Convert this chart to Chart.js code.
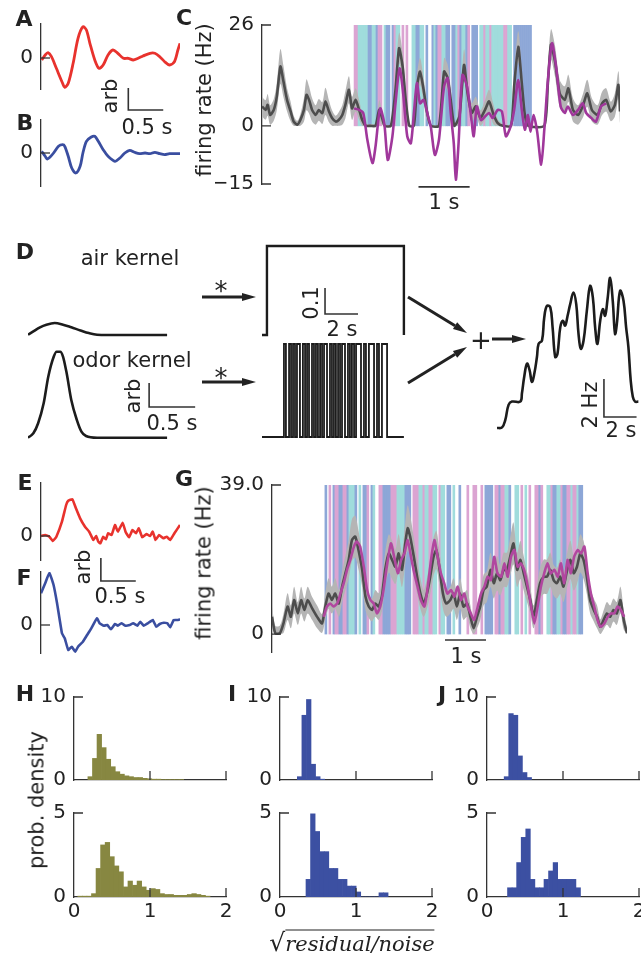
<!DOCTYPE html>
<html>
<head>
<meta charset="utf-8">
<script src="https://cdn.jsdelivr.net/npm/chart.js@4.4.1/dist/chart.umd.min.js"></script>
<style>
  body { margin: 0; background: #fff; }
  #fig { position: relative; width: 641px; height: 957px; overflow: hidden; font-family: 'DejaVu Sans', sans-serif; color: #222; }
  #fig canvas { position: absolute; }
  .t { position: absolute; white-space: nowrap; line-height: 1; font-size: 21px; transform: translate(-50%, -50%); }
  .r { transform: translate(-50%, -50%) rotate(-90deg); }
  .L { font-weight: bold; font-size: 22px; }
  .s { font-size: 26px; }
</style>
</head>
<body>
<div id="fig"></div>
<script>
// ---------- data ----------

// A, B: kernels of panel A/B (time s, arbitrary units)
const aTime = [0.01,0.06,0.1,0.15,0.22,0.3,0.34,0.39,0.46,0.53,0.6,0.65,0.7,0.77,0.83,0.89,0.96,1.03,1.1,1.18,1.25,1.32,1.39,1.46,1.56,1.63,1.7,1.77,1.84,1.91,1.96,1.99];
const aVal = [-0.2,0.3,0.53,0.13,-1.03,-2.37,-2.93,-2.53,-0.53,1.97,3.13,2.8,1.47,-0.2,-1.03,-0.7,0.3,0.8,0.47,-0.03,-0.03,-0.2,-0.03,0.2,0.47,0.47,0.13,-0.37,-0.7,-0.37,0.8,1.47];
const bTime = [0.01,0.06,0.09,0.13,0.18,0.25,0.31,0.34,0.39,0.44,0.5,0.56,0.6,0.65,0.72,0.77,0.82,0.89,0.96,1.06,1.13,1.2,1.27,1.34,1.41,1.49,1.56,1.63,1.7,1.77,1.84,1.91,1.99];
const bVal = [0.17,-0.33,-0.6,-0.4,0,0.67,0.83,0.67,-0.33,-1.5,-2.0,-1.33,0,1.17,1.6,1.67,1.17,0.33,-0.33,-0.83,-0.5,0,0.27,0.07,-0.07,0,-0.07,0.07,-0.07,-0.17,-0.07,-0.07,-0.07];

// E, F: kernels of panel E/F
const eTime = [0,0.06,0.12,0.17,0.22,0.3,0.36,0.39,0.45,0.5,0.56,0.63,0.69,0.75,0.79,0.82,0.85,0.89,0.93,0.96,1.01,1.06,1.1,1.17,1.21,1.26,1.31,1.36,1.4,1.45,1.51,1.56,1.6,1.64,1.69,1.75,1.8,1.85,1.91,1.99];
const eVal = [0,0.1,-0.07,-0.5,-0.07,1.43,3.1,3.53,3.67,2.77,1.77,0.93,0.43,-0.4,0,-0.57,-0.73,-0.07,-0.33,0.27,0.1,1.1,0.43,1.33,0.43,-0.13,0.6,0.27,0.77,-0.13,0.2,0,0.43,-0.4,0.1,-0.23,-0.07,-0.4,0.27,1.1];
const fTime = [0,0.06,0.12,0.18,0.23,0.3,0.34,0.39,0.44,0.49,0.53,0.6,0.66,0.72,0.8,0.84,0.9,0.95,1.0,1.06,1.1,1.15,1.21,1.27,1.32,1.38,1.42,1.47,1.53,1.6,1.65,1.7,1.76,1.81,1.85,1.9,1.95,1.99];
const fVal = [3.17,4.17,5.23,4.0,2.17,-0.83,-1.33,-2.5,-2.17,-2.67,-2.17,-1.67,-1.0,-0.33,0.67,0.17,-0.07,0,-0.43,0.1,-0.07,0.17,-0.07,0,0.17,-0.07,0.33,-0.07,0.17,0.5,-0.17,0.1,0.23,0.17,-0.23,0.5,0.5,0.57];

// C: firing rate (Hz), mean + error, and prediction
const cTime = [0,0.07,0.11,0.16,0.23,0.29,0.36,0.42,0.49,0.56, 0.62,0.69,0.75,0.82,0.87,0.92,0.98,1.05,1.11,1.18, 1.24,1.31,1.37,1.44,1.5,1.57,1.63,1.7,1.76,1.83, 1.9,1.96,2.03,2.12,2.22,2.29,2.34,2.4,2.52,2.61, 2.68,2.75,2.81,2.88,2.97,3.03,3.09,3.16,3.22,3.3, 3.46,3.56,3.63,3.69,3.76,3.86,3.95,4.02,4.1,4.18, 4.27,4.36,4.44,4.53,4.61,4.71,4.87,4.93,5.01,5.08, 5.14,5.21,5.52,5.59,5.65,5.73,5.82,5.92,5.99,6.08, 6.18,6.27,6.36,6.45,6.56,6.65,6.73,6.82,6.9,6.97, 7.0];
const cMean = [5.0,4.1,5.4,2.8,4.1,7.6,15.3,11.4,6.7,3.7, 1.1,0.3,1.5,4.1,8.0,6.7,4.1,2.8,4.1,3.3, 6.3,3.7,2.0,1.1,1.5,2.8,5.4,9.3,4.5,6.7, 4.1,1.5,0,0,0,4.1,2.4,0,0,9.3, 20,15.3,6.7,0,0,10.1,14.0,9.3,4.1,0, 0,14.0,12.3,6.7,0,2.4,15.7,8.4,3.3,5.0, 2.0,4.1,6.3,2.8,0.7,0,0,10.1,20.4,11.0, 2.8,0,0,11.0,20.9,16.6,8.4,6.7,9.7,4.1, 2.8,5.0,8.4,4.1,2.8,5.8,6.7,3.7,5.4,10.6, 3.7];
const cErr = [2.5,2.5,2.8,2.5,2.8,3.5,4.5,4,3,2.5, 1.5,1,1.5,3,4,3.5,3,2.5,2.8,2.8, 3.5,2.8,2,1.5,2,2.5,3.5,3.5,3,3, 2.5,1.5,0.5,0.5,0.5,2.5,2,0.5,0.5,3, 4,3.5,3,0.5,0.5,3,3.5,3,2.5,0.5, 0.5,3.5,3.5,3,0.5,2,4,3,2.5,2.5, 2,2.5,3,2.5,1,0.5,0.5,3,4,3.5, 2,0.5,0.5,3.5,4,4,3.5,3.5,3.5,3, 2.5,3,3.5,3,2.5,3,3,2.5,3,3.5, 3];
const cPredTime = [1.8,1.9,1.98,2.06,2.16,2.22,2.31,2.39,2.46,2.55, 2.61,2.69,2.76,2.84,2.91,2.97,3.03,3.09,3.16,3.24, 3.3,3.38,3.46,3.56,3.63,3.69,3.75,3.79,3.84,3.92, 4.01,4.08,4.14,4.2,4.28,4.36,4.44,4.51,4.61,4.69, 4.77,4.86,4.93,5.01,5.08,5.14,5.2,5.25,5.31,5.38, 5.46,5.52,5.59,5.67,5.75,5.84,5.92,5.98,6.08,6.18, 6.27,6.34,6.44,6.53,6.63,6.73];
const cPred = [4.5,4.1,3.3,-3.6,-9.6,-5.3,4.5,0.7,-8.8,-2.7, 5.8,14.8,8.4,-2.7,-4.5,3.3,11.0,5.8,6.7,2.8, -0.2,-7.5,-3.6,10.1,12.3,3.3,-4.5,-13.9,-5.3,13.1, 10.1,3.3,-2.7,5.0,1.5,2.4,3.3,2.0,4.1,3.7, -2.7,-0.2,4.1,11.8,4.1,-1.0,2.8,-1.5,2.8,-1.5, -10.0,-1.0,11.8,21.3,15.3,5.0,3.3,5.0,2.8,4.1, 5.8,3.3,2.0,1.1,5.0,5.8];
// stimulus stripes: b = air, c = odor, p = odor 2, . = none
const cStim = 'ppcccccbbccbpp.cbb.bpcc.p.p..ccbbcc.b..bcbppccbb.bbcpbccbp.bbb.ccpccpccccccppcc.bbbbbbbbb'.split('');
const cStimSpan = [1.80, 5.27];

// G: firing rate (Hz), mean + error, and prediction
const gTime = [0,0.08,0.19,0.28,0.38,0.46,0.54,0.63,0.71,0.79, 0.87,0.98,1.1,1.22,1.3,1.38,1.46,1.54,1.63,1.71, 1.79,1.87,1.95,2.03,2.11,2.2,2.28,2.36,2.44,2.52, 2.6,2.68,2.76,2.85,2.93,3.01,3.09,3.17,3.25,3.31, 3.37,3.46,3.54,3.62,3.7,3.78,3.86,3.94,4.01,4.09, 4.17,4.25,4.35,4.43,4.51,4.59,4.67,4.76,4.84,4.92, 5.0,5.08,5.16,5.24,5.33,5.41,5.49,5.57,5.65,5.73, 5.81,5.89,5.98,6.06,6.14,6.22,6.3,6.38,6.46,6.54, 6.63,6.71,6.79,6.87,6.95,7.03,7.11,7.2,7.28,7.36, 7.44,7.52,7.6,7.68,7.76,7.85,7.93,8.01,8.09,8.17, 8.25,8.33,8.41,8.5,8.58,8.66];
const gMean = [4.5,0.2,0.2,2.8,7.2,4.5,8.9,5.4,8.9,6.3, 8.9,6.7,4.5,2.8,7.2,10.6,8.9,10.6,8.0,12.4, 15.9,19.4,24.6,25.5,22,16.8,9.8,7.2,6.3,8.0, 7.2,9.8,16.8,21.1,19.4,17.6,21.1,16.8,23.7,27.7, 25.5,20.2,15,10.6,8.0,10.6,15,20.2,22,16.8, 10.6,8.0,8.9,10.6,7.2,10.6,7.2,8.0,4.5,1.5, 4.5,7.2,11.5,12.4,16.8,13.3,15.9,14.1,16.8,16.8, 20.2,23.7,16.8,19.4,15.9,12.4,8.9,4.5,8.9,13.3, 15,15,16.8,14.1,13.3,15,12.4,16.8,19.4,15.9, 17.6,21.1,19.4,15,8.9,6.3,4.5,1.9,3.7,5.4, 4.5,6.3,5.4,8.9,3.7,0.2];
const gErr = [3,2,2,2.5,3.5,3,3.5,3,3.5,3, 3.5,3,3,2.5,3.5,4,3.5,4,3.5,4, 4.5,5,5.5,5.5,5,4.5,3.5,3,3,3.5, 3.5,4,4.5,5,5,4.5,5,4.5,5.5,6, 5.5,5,4.5,4,3.5,4,4.5,5,5,4.5, 4,3.5,3.5,4,3.5,4,3.5,3.5,3,2, 3,3.5,4,4,4.5,4,4.5,4,4.5,4.5, 5,5.5,4.5,5,4.5,4,3.5,3,3.5,4, 4.5,4.5,4.5,4,4,4.5,4,4.5,5,4.5, 4.5,5,5,4.5,3.5,3,3,2,2.5,3, 3,3,3,3.5,2.5,1.5];
const gPredTime = [1.26,1.34,1.42,1.5,1.59,1.67,1.75,1.83,1.91,2.0, 2.07,2.15,2.24,2.32,2.4,2.48,2.56,2.64,2.72,2.8, 2.9,2.98,3.07,3.15,3.23,3.31,3.39,3.47,3.55,3.63, 3.72,3.8,3.88,3.96,4.04,4.12,4.2,4.28,4.37,4.45, 4.53,4.61,4.69,4.77,4.85,4.93,5.02,5.1,5.18,5.26, 5.34,5.42,5.5,5.59,5.67,5.75,5.83,5.91,5.99,6.07, 6.15,6.24,6.32,6.4,6.48,6.56,6.64,6.72,6.8,6.89, 6.97,7.05,7.13,7.21,7.29,7.37,7.46,7.54,7.62,7.7, 7.78,7.86,7.94,8.02,8.11,8.19,8.27,8.35,8.43,8.51, 8.59];
const gPred = [4.5,7.2,8.0,7.2,8.0,10.6,13.3,16.8,19.4,22.9, 24.2,22.9,17.6,11.5,8.9,8.0,5.4,7.2,11.5,17.6, 23.7,20.2,15.9,19.4,21.1,24.6,20.2,15.9,12.4,8.9, 7.2,12.4,19.4,24.6,20.2,15.9,13.3,10.6,11.5,9.8, 12.4,8.9,10.6,7.2,5.4,3.7,7.2,10.6,12.4,15, 14.1,20.2,15.9,15,18.5,15,20.2,22,17.6,18.5, 16.8,12.4,7.2,2.8,7.2,12.4,15.9,18.5,15.9,16.8, 15,18.5,13.3,19.4,15.9,20.2,22,21.1,22.9,15.9, 10.6,7.2,3.7,1.9,2.8,4.5,5.4,5.4,7.2,6.3, 4.5];
const gStim = 'b.p.bppbbppbcccb.c.bbp.bc..ppbbbbpppccccbbb.pppccpccppcc.pcc.bb.c..b...p..pp..p.bbbb.ppbppccb..cc.p.c.p..ppbp..ccpbbccpbbppcppcbb.'.split('');
const gStimSpan = [1.29, 7.63];

// D: model schematic
const airKT = [0,0.058,0.13,0.2,0.29,0.38,0.47,0.57,0.66,0.75,0.86,1.51];
const airKV = [0.01,0.15,0.32,0.43,0.5,0.43,0.32,0.19,0.08,0.01,0,0];
const odorKT = [0,0.058,0.11,0.17,0.22,0.28,0.31,0.35,0.38,0.42,0.47,0.53,0.58,0.63,0.75,1.51];
const odorKV = [0,0.18,0.6,1.43,2.54,3.38,3.58,3.58,3.38,2.68,1.57,0.74,0.25,0.07,0,0];
const airOn = [[0.3, 8.6]];
const airLevel = 0.342;
const odorOn = [[1.33,1.45],[1.64,1.76],[1.88,2.0],[2.12,2.3],[2.48,2.61],[2.73,2.85],[3.03,3.15],[3.27,3.39],[3.52,3.64],[3.76,3.94],[4.12,4.24],[4.36,4.48],[4.61,4.73],[4.85,5.03],[5.21,5.33],[5.45,5.58],[5.7,6.0],[6.18,6.3],[6.48,6.79],[6.97,7.09],[7.27,7.58]];
const stimEnd = 8.6;
const outT = [0,0.31,0.51,0.71,0.92,1.43,1.53,1.67,1.84,2.0,2.14,2.29,2.45,2.55,2.76,2.9,3.06,3.27,3.41,3.57,3.71,3.88,4.04,4.18,4.33,4.49,4.69,4.86,5.0,5.14,5.31,5.51,5.71,5.88,6.02,6.16,6.33,6.49,6.63,6.78,6.94,7.1,7.24,7.35,7.55,7.76,7.92,8.06,8.2,8.33,8.47,8.67];
const outV = [0,0.03,0.43,1.22,1.39,1.39,1.83,2.7,3.39,3.04,2.43,2.87,3.74,4.43,4.61,5.83,6.43,6.35,5.3,3.74,3.91,5.3,5.65,5.39,5.91,6.52,7.13,6.52,4.96,4.17,4.61,6.17,7.48,6.87,5.3,4.43,5.65,6.26,5.91,6.78,7.91,6.7,4.96,5.48,7.22,6.7,5.3,4.26,2.52,1.65,1.39,1.39];

// H, I, J: histograms of sqrt(residual/noise), prob. density per bin
const histBin = 0.06;
const hTopStart = 0.183;
const hTop = [0.4,2.6,5.5,3.9,2.5,1.6,1.0,0.7,0.5,0.4,0.3,0.3,0.2,0.15,0.1,0.1,0.05,0.05,0.05,0.05,0.05];
const hBotStart = 0.05;
const hBot = [0.05,0.05,0.05,0.2,1.7,3.1,3.25,2.4,1.85,1.5,0.6,0.95,0.7,0.95,0.6,0.4,0.5,0.45,0.2,0.15,0.15,0.1,0.1,0.1,0.15,0.2,0.15,0.1,0.05];
const iTopStart = 0.228;
const iTop = [0.4,7.8,9.7,1.9,0.4,0.1];
const iBotStart = 0.342;
const iBot = [1.05,4.95,3.9,2.7,2.7,1.7,1.7,1.05,1.05,0.65,0.65,0.3,0,0,0,0,0.25,0.25];
const jTopStart = 0.226;
const jTop = [0.4,8.0,7.8,2.9,0.9,0.3];
const jBotStart = 0.27;
const jBot = [0.55,0.55,2.05,3.55,4.05,1.05,0.55,0.55,1.05,1.55,2.05,1.05,1.05,1.05,1.05,0.55];

// ---------- style ----------
const INK = '#222';
const AXIS = '#333';
const RED = '#e8322d';
const BLUE = '#3a4ea0';
const BLACK = '#1c1c1c';
const MEAN = '#4d4d4d';
const BAND = '#b5b5b5';
const OLIVE = '#878741';
const HBLUE = '#3c50a2';
const stimColor = { b: '#8da7d7', c: '#a0dcdc', p: '#dba4d2' };

Chart.defaults.font.family = "'DejaVu Sans', sans-serif";
Chart.defaults.font.size = 20;
Chart.defaults.color = INK;

const fig = document.getElementById('fig');

// inward tick marks
const inTicks = {
    id: 'inTicks',
    afterDraw(chart, args, o) {
        if (!o.y && !o.x) return;
        const { ctx, chartArea: a, scales } = chart;
        ctx.save();
        ctx.strokeStyle = AXIS;
        ctx.lineWidth = 1.3;
        ctx.beginPath();
        (o.y || []).forEach(v => {
            const p = scales.y.getPixelForValue(v);
            ctx.moveTo(a.left, p); ctx.lineTo(a.left + 9, p);
        });
        (o.x || []).forEach(v => {
            const p = scales.x.getPixelForValue(v);
            ctx.moveTo(p, a.bottom); ctx.lineTo(p, a.bottom - 9);
        });
        ctx.stroke();
        ctx.restore();
    }
};

// L-shaped / plain scale bars, in data units of the chart
const scaleBar = {
    id: 'scaleBar',
    afterDraw(chart, args, o) {
        if (!o.at) return;
        const { ctx, scales: { x, y } } = chart;
        const [t, v, dt, dv] = o.at;
        const x0 = x.getPixelForValue(t), y0 = y.getPixelForValue(v);
        ctx.save();
        ctx.strokeStyle = AXIS;
        ctx.lineWidth = 1.6;
        ctx.beginPath();
        if (dv) { ctx.moveTo(x0, y.getPixelForValue(v + dv)); ctx.lineTo(x0, y0); }
        else ctx.moveTo(x0, y0);
        ctx.lineTo(x.getPixelForValue(t + dt), y0);
        ctx.stroke();
        ctx.restore();
    }
};
Chart.register(inTicks, scaleBar);

function pts(xs, ys) {
    return xs.map((x, i) => ({ x, y: ys[i] }));
}

function line(xs, ys, color, width, extra) {
    return Object.assign({
        type: 'line', data: pts(xs, ys), borderColor: color, borderWidth: width,
        pointRadius: 0, tension: 0.3, fill: false, order: 0
    }, extra || {});
}

function band(xs, mean, err) {
    return [
        { type: 'line', order: 2, data: xs.map((x, i) => ({ x, y: mean[i] + err[i] })),
          borderColor: 'rgba(0,0,0,0)', borderWidth: 0, pointRadius: 0, tension: 0.3, fill: '+1', backgroundColor: BAND },
        { type: 'line', order: 3, data: xs.map((x, i) => ({ x, y: Math.max(0, mean[i] - err[i]) })),
          borderColor: 'rgba(0,0,0,0)', borderWidth: 0, pointRadius: 0, tension: 0.3, fill: false }
    ];
}

function stim(seq, span, top) {
    const w = (span[1] - span[0]) / seq.length;
    return {
        type: 'bar', order: 4,
        data: seq.map((k, i) => ({ x: span[0] + (i + 0.5) * w, y: k === '.' ? null : top })),
        backgroundColor: seq.map(k => stimColor[k] || 'rgba(0,0,0,0)'),
        barPercentage: 1, categoryPercentage: 1, borderWidth: 0
    };
}

function pulses(on, level, tEnd) {
    const p = [{ x: 0, y: 0 }];
    on.forEach(([a, b]) => p.push({ x: a, y: 0 }, { x: a, y: level }, { x: b, y: level }, { x: b, y: 0 }));
    p.push({ x: tEnd, y: 0 });
    return p;
}

function hist(start, counts, color) {
    return {
        type: 'bar',
        data: counts.map((c, i) => ({ x: start + (i + 0.5) * histBin, y: c })),
        backgroundColor: color, barPercentage: 1, categoryPercentage: 1, borderWidth: 0
    };
}

// box = [left, top, width, height], area = [left, top, right, bottom] (page px)
function panel(box, area, o) {
    const cv = document.createElement('canvas');
    cv.width = box[2];
    cv.height = box[3];
    cv.style.left = box[0] + 'px';
    cv.style.top = box[1] + 'px';
    fig.appendChild(cv);
    const yW = o.yTicks ? area[0] - box[0] : 0;
    const xH = o.xLabels ? 26 : 0;
    const noPad = s => { s.paddingLeft = 0; s.paddingRight = 0; s.paddingTop = 0; s.paddingBottom = 0; };
    return new Chart(cv, {
        type: 'bar',
        data: { datasets: o.datasets },
        options: {
            responsive: false, animation: false, events: [], devicePixelRatio: 1,
            layout: {
                autoPadding: false,
                padding: {
                    left: area[0] - box[0] - yW, top: area[1] - box[1],
                    right: box[0] + box[2] - area[2], bottom: box[1] + box[3] - area[3] - xH
                }
            },
            scales: {
                x: {
                    type: 'linear', min: o.x[0], max: o.x[1], offset: false,
                    display: !!o.xAxis,
                    afterBuildTicks: s => { if (o.xTicks) s.ticks = o.xTicks.map(v => ({ value: v })); },
                    afterFit: s => { s.height = xH; noPad(s); },
                    grid: { display: false, drawTicks: false, offset: false },
                    border: { display: !!o.xAxis, color: AXIS, width: 1.3 },
                    ticks: { display: !!o.xLabels, padding: 3, maxRotation: 0, autoSkip: false }
                },
                y: {
                    type: 'linear', min: o.y[0], max: o.y[1],
                    display: !!o.yTicks,
                    afterBuildTicks: s => { if (o.yTicks) s.ticks = o.yTicks.map(v => ({ value: v })); },
                    afterFit: s => { s.width = yW; noPad(s); },
                    grid: { display: false, drawTicks: false },
                    border: { display: true, color: AXIS, width: 1.3 },
                    ticks: { padding: 8, callback: o.yFmt || (v => v) }
                }
            },
            plugins: {
                legend: { display: false },
                tooltip: { enabled: false },
                inTicks: o.inTicks || {},
                scaleBar: o.bar ? { at: o.bar } : {}
            }
        }
    });
}

const minus = v => v < 0 ? '\u2212' + Math.abs(v) : String(v);

// A, B
panel([0, 0, 190, 118], [41, 24, 180, 89], {
    x: [0, 1.99], y: [-3.1, 3.4], yTicks: [0], inTicks: { y: [0] }, bar: [1.25, -5.2, 0.5, 2.2],
    datasets: [line(aTime, aVal, RED, 2.8)]
});
panel([0, 112, 190, 83], [41, 120, 180, 186], {
    x: [0, 1.99], y: [-3.3, 3.3], yTicks: [0], inTicks: { y: [0] },
    datasets: [line(bTime, bVal, BLUE, 2.8)]
});

// C
panel([215, 0, 426, 195], [262, 25, 620, 184], {
    x: [0, 7.0], y: [-15, 26], yTicks: [26, 0, -15], yFmt: minus, inTicks: { y: [26, 0, -15] },
    bar: [3.06, -15.75, 1, 0],
    datasets: [
        stim(cStim, cStimSpan, 26),
        ...band(cTime, cMean, cErr),
        line(cTime, cMean, MEAN, 2.6, { order: 1, tension: 0.2 }),
        line(cPredTime, cPred, '#a0379b', 2.6, { order: 0, tension: 0.25 })
    ]
});

// D
panel([20, 310, 160, 35], [28, 315, 168, 340], {
    x: [0, 1.52], y: [-0.208, 0.833],
    datasets: [line(airKT, airKV, BLACK, 2.6, { cubicInterpolationMode: 'monotone' })]
});
panel([20, 340, 190, 105], [28, 345, 168, 442], {
    x: [0, 1.52], y: [-0.18, 3.86], bar: [1.315, 1.28, 0.5, 1],
    datasets: [line(odorKT, odorKV, BLACK, 2.6, { cubicInterpolationMode: 'monotone' })]
});
panel([255, 235, 160, 110], [262, 240, 410, 340], {
    x: [0, 8.97], y: [-0.019, 0.365], bar: [3.82, 0.081, 2, 0.1],
    datasets: [{ type: 'line', data: pulses(airOn, airLevel, stimEnd), borderColor: BLACK, borderWidth: 2.4,
                 pointRadius: 0, tension: 0, fill: false, borderJoinStyle: 'miter' }]
});
panel([255, 335, 160, 110], [262, 340, 410, 442], {
    x: [0, 8.97], y: [-0.054, 1.043],
    datasets: [{ type: 'line', data: pulses(odorOn, 1, stimEnd), borderColor: BLACK, borderWidth: 1.8,
                 pointRadius: 0, tension: 0, fill: false, borderJoinStyle: 'miter' }]
});
panel([490, 265, 151, 175], [497, 270, 639, 432], {
    x: [0, 8.71], y: [-0.21, 8.32], bar: [6.56, 0.58, 2, 2],
    datasets: [line(outT, outV, BLACK, 2.6, { tension: 0.4 })]
});

// E, F
panel([0, 470, 190, 120], [41, 483, 180, 560], {
    x: [0, 1.99], y: [-2.4, 5.3], yTicks: [0], inTicks: { y: [0] }, bar: [0.857, -4.5, 0.5, 2.3],
    datasets: [line(eTime, eVal, RED, 2.6, { tension: 0.1 })]
});
panel([0, 565, 190, 95], [41, 572, 180, 653], {
    x: [0, 1.99], y: [-2.8, 5.3], yTicks: [0], inTicks: { y: [0] },
    datasets: [line(fTime, fVal, BLUE, 2.6, { tension: 0.1 })]
});

// G
panel([215, 465, 426, 197], [272, 485, 627, 652], {
    x: [0, 8.66], y: [-4.7, 39], yTicks: [39, 0], yFmt: v => v === 39 ? '39.0' : String(v), inTicks: { y: [39, 0] },
    bar: [4.22, -1.57, 1, 0],
    datasets: [
        stim(gStim, gStimSpan, 39),
        ...band(gTime, gMean, gErr),
        line(gTime, gMean, MEAN, 2.6, { order: 1, tension: 0.2 }),
        line(gPredTime, gPred, '#b1479f', 2.6, { order: 0, tension: 0.2 })
    ]
});

// H, I, J
const histPanels = [
    [0, 74, hTopStart, hTop, hBotStart, hBot, OLIVE],
    [235, 280, iTopStart, iTop, iBotStart, iBot, HBLUE],
    [440, 487, jTopStart, jTop, jBotStart, jBot, HBLUE]
];
histPanels.forEach(([bl, al, ts, top, bs, bot, color]) => {
    const w = bl === 440 ? 201 : 235 - (bl === 0 ? 0 : 30);
    panel([bl, 680, w, 105], [al, 697, al + 152, 780], {
        x: [0, 2], y: [0, 10], yTicks: [10, 0], xAxis: true, inTicks: { y: [10], x: [1, 2] },
        datasets: [hist(ts, top, color)]
    });
    panel([bl, 800, w, 130], [al, 813, al + 152, 897], {
        x: [0, 2], y: [0, 5], yTicks: [5, 0], xAxis: true, xLabels: true, xTicks: [0, 1, 2], inTicks: { y: [5], x: [1, 2] },
        datasets: [hist(bs, bot, color)]
    });
});

// ---------- text ----------
const texts = [
    ['A', 24, 19, 'L'], ['B', 25, 123, 'L'], ['C', 184, 18, 'L'], ['D', 25, 252, 'L'],
    ['E', 25, 483, 'L'], ['F', 24, 578, 'L'], ['G', 184, 479, 'L'], ['H', 25, 694, 'L'],
    ['I', 232, 694, 'L'], ['J', 442, 695, 'L'],
    ['arb', 110, 96, 'r'], ['0.5 s', 147, 127],
    ['firing rate (Hz)', 204, 100, 'r'], ['1 s', 444, 202],
    ['air kernel', 130, 258], ['odor kernel', 132, 360], ['arb', 133, 396, 'r'], ['0.5 s', 172, 423],
    ['*', 221, 291, 's'], ['*', 221, 378, 's'], ['0.1', 311, 303, 'r'], ['2 s', 342, 329],
    ['+', 481, 340, 's'], ['2 Hz', 590, 405, 'r'], ['2 s', 621, 430],
    ['arb', 83, 567, 'r'], ['0.5 s', 120, 596],
    ['firing rate (Hz)', 204, 563, 'r'], ['1 s', 466, 656],
    ['prob. density', 37, 800, 'r']
];
texts.forEach(([s, x, y, cls]) => {
    const d = document.createElement('div');
    d.className = 't ' + (cls || '');
    d.textContent = s;
    d.style.left = x + 'px';
    d.style.top = y + 'px';
    fig.appendChild(d);
});

// x label of H-J
const xl = document.createElement('div');
xl.className = 't';
xl.style.left = '352px';
xl.style.top = '942px';
xl.style.fontFamily = "'DejaVu Serif', serif";
xl.style.fontSize = '21px';
xl.innerHTML = '<span style="font-size:25px">\u221A</span><span style="font-style:italic;border-top:1.5px solid #222;padding-top:1px">residual/noise</span>';
fig.appendChild(xl);

// arrows of D
const arrows = [[202, 297, 256, 297], [202, 382, 256, 382], [408, 297, 467, 333], [408, 383, 467, 347], [492, 339, 526, 339]];
const NS = 'http://www.w3.org/2000/svg';
const svg = document.createElementNS(NS, 'svg');
svg.setAttribute('width', 641);
svg.setAttribute('height', 957);
svg.style.position = 'absolute';
svg.style.left = '0px';
svg.style.top = '0px';
arrows.forEach(([x1, y1, x2, y2]) => {
    const L = Math.hypot(x2 - x1, y2 - y1), ux = (x2 - x1) / L, uy = (y2 - y1) / L;
    const bx = x2 - ux * 14, by = y2 - uy * 14;
    const ln = document.createElementNS(NS, 'line');
    ln.setAttribute('x1', x1); ln.setAttribute('y1', y1);
    ln.setAttribute('x2', bx); ln.setAttribute('y2', by);
    ln.setAttribute('stroke', INK); ln.setAttribute('stroke-width', 3);
    svg.appendChild(ln);
    const hd = document.createElementNS(NS, 'polygon');
    hd.setAttribute('points', [x2, y2, bx - uy * 4, by + ux * 4, bx + uy * 4, by - ux * 4].join(' '));
    hd.setAttribute('fill', INK);
    svg.appendChild(hd);
});
fig.appendChild(svg);
</script>
</body>
</html>
